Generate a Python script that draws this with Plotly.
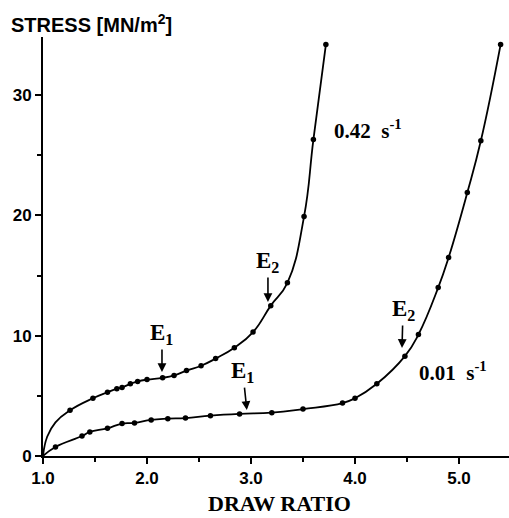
import plotly.graph_objects as go

# 0.42 s^-1 series (measured points)
fast_x = [1.26, 1.48, 1.62, 1.71, 1.76, 1.84, 1.91, 2.00, 2.15, 2.26, 2.38, 2.52, 2.66, 2.84, 3.02, 3.19, 3.35, 3.51, 3.60, 3.72]
fast_y = [3.8, 4.8, 5.3, 5.6, 5.7, 6.0, 6.2, 6.35, 6.5, 6.7, 7.1, 7.5, 8.1, 9.0, 10.3, 12.5, 14.4, 19.9, 26.3, 34.2]
# start of the fitted curve
fast_start_x = [1.0, 1.04, 1.12]
fast_start_y = [0.0, 1.6, 2.8]

# 0.01 s^-1 series
slow_x = [1.12, 1.375, 1.45, 1.62, 1.76, 1.88, 2.04, 2.20, 2.37, 2.61, 2.89, 3.20, 3.50, 3.88, 4.00, 4.21, 4.48, 4.61, 4.80, 4.90, 5.08, 5.21, 5.40]
slow_y = [0.75, 1.66, 2.0, 2.3, 2.7, 2.75, 3.0, 3.1, 3.15, 3.35, 3.5, 3.6, 3.9, 4.4, 4.8, 6.0, 8.3, 10.1, 14.0, 16.5, 21.9, 26.2, 34.2]
slow_start_x = [1.0]
slow_start_y = [0.0]

x_ticks = [1, 2, 3, 4, 5]
x_ticklabels = ["1.0", "2.0", "3.0", "4.0", "5.0"]
y_ticks = [0, 10, 20, 30]

# annotation arrows: (x, y tip, text, ax, ay)
marks = [
    (2.144, 6.98, "E<sub>1</sub>", 0, -38),
    (2.96, 3.82, "E<sub>1</sub>", -4, -38),
    (3.163, 12.8, "E<sub>2</sub>", 0, -40),
    (4.452, 8.98, "E<sub>2</sub>", 1, -38),
]

serif = "Liberation Serif"
sans = "Liberation Sans"

fig = go.Figure()
line = dict(color="black", width=1.8, shape="spline", smoothing=1.3)
mk = dict(color="black", size=5.5)
fig.add_trace(go.Scatter(x=fast_start_x + fast_x, y=fast_start_y + fast_y, mode="lines", line=line, hoverinfo="skip"))
fig.add_trace(go.Scatter(x=fast_x, y=fast_y, mode="markers", marker=mk))
fig.add_trace(go.Scatter(x=slow_start_x + slow_x, y=slow_start_y + slow_y, mode="lines", line=line, hoverinfo="skip"))
fig.add_trace(go.Scatter(x=slow_x, y=slow_y, mode="markers", marker=mk))

annotations = []
for x, y, t, ax, ay in marks:
    annotations.append(dict(x=x, y=y, xref="x", yref="y", text=t, showarrow=True,
                            arrowhead=2, arrowsize=1.1, arrowwidth=1.6, arrowcolor="black",
                            ax=ax, ay=ay, font=dict(family=serif, size=23, color="black", weight="bold")))
annotations.append(dict(x=3.78, y=27.1, xref="x", yref="y", xanchor="left", yanchor="middle",
                        text="0.42  s<sup>-1</sup>", showarrow=False,
                        font=dict(family=serif, size=21, color="black", weight="bold")))
annotations.append(dict(x=4.60, y=7.0, xref="x", yref="y", xanchor="left", yanchor="middle",
                        text="0.01  s<sup>-1</sup>", showarrow=False,
                        font=dict(family=serif, size=21, color="black", weight="bold")))
annotations.append(dict(x=279, y=503, text="DRAW RATIO", showarrow=False,
                        xanchor="center", yanchor="middle",
                        font=dict(family=serif, size=22, color="black", weight="bold")))
annotations.append(dict(x=9, y=24, text="STRESS [MN/m<sup>2</sup>]", showarrow=False,
                        xanchor="left", yanchor="middle",
                        font=dict(family=sans, size=20, color="black", weight="bold")))

# convert pixel placed annotations to paper coords
W, H = 509, 518
L, R, T, B = 43, 0, 37, 62
pw, ph = W - L - R, H - T - B
for a in annotations[-2:]:
    px, py = a["x"], a["y"]
    a["x"] = (px - L) / pw
    a["y"] = (H - B - py) / ph
    a["xref"] = "paper"
    a["yref"] = "paper"

fig.update_layout(
    width=W, height=H,
    margin=dict(l=L, r=R, t=T, b=B),
    paper_bgcolor="white", plot_bgcolor="white",
    showlegend=False,
    annotations=annotations,
    xaxis=dict(range=[1.0, 1 + pw / 104.0], tickvals=x_ticks, ticktext=x_ticklabels,
               showgrid=False, zeroline=False, showline=True, linecolor="black", linewidth=2,
               ticks="outside", ticklen=6, tickwidth=2, tickcolor="black",
               minor=dict(dtick=0.5, tick0=1.0, ticks="outside", ticklen=4, tickwidth=1.5, tickcolor="black", showgrid=False),
               tickfont=dict(family=sans, size=17, color="black", weight="bold")),
    yaxis=dict(range=[0, 419 / 12.03], tickvals=y_ticks,
               showgrid=False, zeroline=False, showline=True, linecolor="black", linewidth=2,
               ticks="outside", ticklen=6, tickwidth=2, tickcolor="black",
               minor=dict(dtick=5, tick0=0, ticks="outside", ticklen=4, tickwidth=1.5, tickcolor="black", showgrid=False),
               tickfont=dict(family=sans, size=17, color="black", weight="bold")),
)

fig.write_html("out.html")
